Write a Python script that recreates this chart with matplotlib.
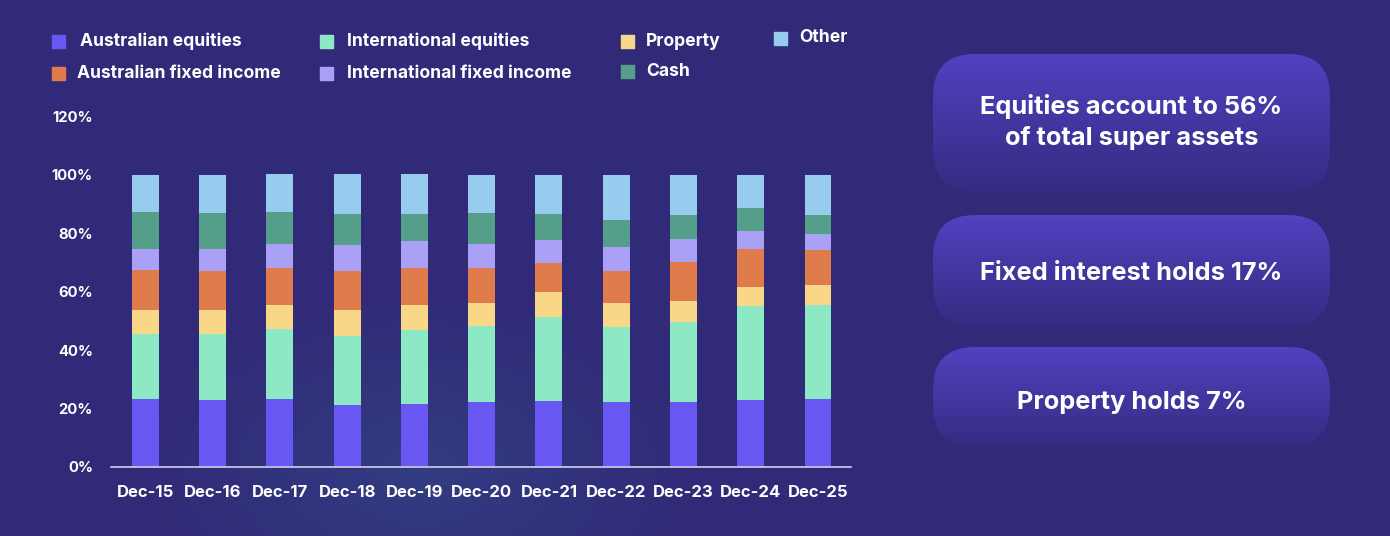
import numpy as np
import matplotlib
matplotlib.use("Agg")
import matplotlib.pyplot as plt
from matplotlib.patches import FancyBboxPatch

# ---------------- data ----------------
periods = ["Dec-15", "Dec-16", "Dec-17", "Dec-18", "Dec-19", "Dec-20",
           "Dec-21", "Dec-22", "Dec-23", "Dec-24", "Dec-25"]
aus_equities = [23.3, 23.0, 23.3, 21.3, 21.6, 22.3, 22.6, 22.3, 22.3, 23.0, 23.3]
intl_equities = [22.0, 22.6, 24.0, 23.6, 25.4, 26.0, 28.8, 25.4, 27.4, 31.9, 32.2]
property_ = [8.5, 8.2, 8.2, 8.9, 8.5, 7.9, 8.3, 8.2, 7.2, 6.8, 6.6]
aus_fixed = [13.7, 13.1, 12.7, 13.1, 12.4, 11.7, 9.9, 11.0, 13.1, 12.7, 12.0]
intl_fixed = [7.2, 7.5, 7.9, 8.9, 9.3, 8.2, 7.9, 8.2, 7.9, 6.2, 5.5]
cash = [12.4, 12.4, 11.0, 10.6, 9.2, 10.7, 8.9, 9.3, 8.2, 7.9, 6.5]
other = [12.7, 13.0, 13.0, 13.7, 13.7, 13.0, 13.4, 15.4, 13.7, 11.3, 13.7]
y_ticks = [0, 20, 40, 60, 80, 100, 120]
y_tick_labels = ["0%", "20%", "40%", "60%", "80%", "100%", "120%"]
callouts = ["Equities account to 56%\nof total super assets",
            "Fixed interest holds 17%",
            "Property holds 7%"]

series = [
    ("Australian equities", aus_equities, "#6857F2"),
    ("International equities", intl_equities, "#8DE8C4"),
    ("Property", property_, "#F8D888"),
    ("Australian fixed income", aus_fixed, "#E07B4B"),
    ("International fixed income", intl_fixed, "#AAA0F5"),
    ("Cash", cash, "#559E8A"),
    ("Other", other, "#98CCEE"),
]

FONT = ["Inter", "DejaVu Sans"]
plt.rcParams["font.family"] = FONT

W, H = 1390, 536
fig = plt.figure(figsize=(W / 100, H / 100), dpi=100)

# ---------------- background ----------------
bg = fig.add_axes([0, 0, 1, 1])
bg.set_xlim(0, W)
bg.set_ylim(H, 0)
bg.axis("off")
base = np.array([0x31, 0x2A, 0x78]) / 255
glow = np.array([0x33, 0x3D, 0x82]) / 255
yy, xx = np.mgrid[0:H, 0:W]
d = np.sqrt(((xx - 420) / 300.0) ** 2 + ((yy - 470) / 190.0) ** 2)
t = np.clip(1 - d, 0, 1) ** 1.2
img = base[None, None, :] * (1 - t[..., None]) + glow[None, None, :] * t[..., None]
bg.imshow(img, extent=(0, W, H, 0), aspect="auto", zorder=0)

# callout boxes
boxes = [(933, 54, 397, 138), (933, 215, 397, 112), (933, 347, 397, 100)]
text_y = [122, 273, 402]
top_c = np.array([0x51, 0x43, 0xC2]) / 255
bot_c = np.array([0x35, 0x2C, 0x82]) / 255
for (bx, by, bw, bh), ty, txt in zip(boxes, text_y, callouts):
    patch = FancyBboxPatch((bx, by), bw, bh,
                           boxstyle="round,pad=0,rounding_size=42",
                           facecolor="none", edgecolor="none", zorder=1)
    bg.add_patch(patch)
    g = np.linspace(0, 1, 200) ** 0.9
    grad = top_c[None, :] * (1 - g[:, None]) + bot_c[None, :] * g[:, None]
    grad = np.repeat(grad[:, None, :], 2, axis=1)
    im = bg.imshow(grad, extent=(bx, bx + bw, by + bh, by), aspect="auto", zorder=1)
    im.set_clip_path(patch)
    bg.text(bx + bw / 2, ty, txt, ha="center", va="center", color="white",
            fontsize=18.3, fontweight="bold", linespacing=1.42, zorder=2)

# ---------------- chart ----------------
L, R, B, T = 111, 851, 467, 116
ax = fig.add_axes([L / W, (H - B) / H, (R - L) / W, (B - T) / H])
ax.set_facecolor("none")
x = np.arange(len(periods))
bottom = np.zeros(len(periods))
for name, vals, col in series:
    v = np.array(vals)
    ax.bar(x, v, width=0.4, bottom=bottom, color=col, label=name, zorder=2)
    bottom += v

ax.set_xlim(-0.51, 10.49)
ax.set_ylim(0, 120)
for s in ["top", "right", "left"]:
    ax.spines[s].set_visible(False)
ax.spines["bottom"].set_color("#D0CFE6")
ax.spines["bottom"].set_linewidth(1.2)
ax.spines["bottom"].set_zorder(3)
ax.set_yticks(y_ticks)
ax.set_yticklabels(y_tick_labels)
ax.set_xticks(x)
ax.set_xticklabels(periods)
ax.tick_params(axis="both", length=0, colors="white")
ax.tick_params(axis="y", pad=13, labelsize=10.7)
ax.tick_params(axis="x", pad=13, labelsize=12)
for lab in ax.get_xticklabels() + ax.get_yticklabels():
    lab.set_fontweight("bold")

# ---------------- legend (manual layout in pixel space) ----------------
legend_pos = {
    "Australian equities": (52, 41, 80),
    "International equities": (320, 41, 347),
    "Property": (621, 41, 646),
    "Other": (774, 38, 799),
    "Australian fixed income": (52, 73, 77),
    "International fixed income": (320, 73, 347),
    "Cash": (621, 71, 646),
}
for name, vals, col in series:
    mx, my, tx = legend_pos[name]
    bg.add_patch(plt.Rectangle((mx, my - 6.5), 13, 13, color=col, zorder=3))
    bg.text(tx, my, name, ha="left", va="center", color="white",
            fontsize=12.6, fontweight="bold", zorder=3)

fig.savefig("out.png", dpi=100, facecolor=base)
